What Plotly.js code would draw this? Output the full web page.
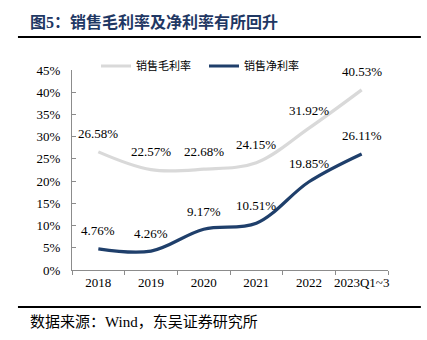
<!DOCTYPE html>
<html>
<head>
<meta charset="utf-8">
<script src="https://cdn.plot.ly/plotly-3.0.1.min.js"></script>
<style>html,body{margin:0;padding:0;background:#fff;}#chart{width:427px;height:340px;}</style>
</head>
<body>
<div id="chart"></div>
<script>
const categories = ["2018", "2019", "2020", "2021", "2022", "2023Q1~3"];
const grossMargin = [26.58, 22.57, 22.68, 24.15, 31.92, 40.53];
const netMargin = [4.76, 4.26, 9.17, 10.51, 19.85, 26.11];
const seriesNames = ["销售毛利率", "销售净利率"];
const yTickVals = [0, 5, 10, 15, 20, 25, 30, 35, 40, 45];
const yTickText = ["0%", "5%", "10%", "15%", "20%", "25%", "30%", "35%", "40%", "45%"];
const titleText = "图5：销售毛利率及净利率有所回升";
const sourceText = "数据来源：Wind，东吴证券研究所";

const serif = "Liberation Serif, Noto Sans CJK SC, serif";
const grayC = "#d9d9d9";
const blueC = "#1f3f6b";

const traces = [
  {x: categories, y: grossMargin, name: seriesNames[0], type: "scatter", mode: "lines",
   line: {color: grayC, width: 3.2, shape: "spline", smoothing: 1}},
  {x: categories, y: netMargin, name: seriesNames[1], type: "scatter", mode: "lines",
   line: {color: blueC, width: 3.2, shape: "spline", smoothing: 1}}
];

const annotations = [];
function addLabels(vals) {
  vals.forEach((v, i) => {
    annotations.push({x: i, y: v, xref: "x", yref: "y", text: v.toFixed(2) + "%",
      showarrow: false, yshift: 18, font: {family: serif, size: 13, color: "#000"}});
  });
}
addLabels(grossMargin);
addLabels(netMargin);
annotations.push({xref: "paper", yref: "paper", x: -0.139, y: 1.24, xanchor: "left", yanchor: "middle",
  text: "<b>" + titleText + "</b>", showarrow: false, font: {family: serif, size: 16, color: "#1f3864"}});
annotations.push({xref: "paper", yref: "paper", x: -0.139, y: -0.26, xanchor: "left", yanchor: "middle",
  text: sourceText, showarrow: false, font: {family: serif, size: 15, color: "#000"}});

const layout = {
  width: 427, height: 340,
  margin: {l: 72, r: 39, t: 70, b: 70},
  paper_bgcolor: "#fff", plot_bgcolor: "#fff",
  showlegend: true,
  legend: {orientation: "h", x: (96 - 72) / 316, xanchor: "left", y: (270 - 66) / 200, yanchor: "middle",
    font: {family: serif, size: 11, color: "#000"}, entrywidth: 63, entrywidthmode: "pixels",
    bgcolor: "rgba(0,0,0,0)", borderwidth: 0},
  xaxis: {type: "category", range: [-0.5, 5.5], showline: true, linecolor: "#8c8c8c", linewidth: 1,
    ticks: "outside", ticklen: 4, tickcolor: "#8c8c8c", tickson: "boundaries", showgrid: false, zeroline: false,
    tickangle: 0, tickfont: {family: serif, size: 13, color: "#000"}, fixedrange: true},
  yaxis: {range: [0, 45], tickvals: yTickVals, ticktext: yTickText, showline: true, linecolor: "#8c8c8c", linewidth: 1,
    ticks: "inside", ticklen: 4, tickcolor: "#8c8c8c", showgrid: false, zeroline: false, ticklabelstandoff: 8,
    tickfont: {family: serif, size: 13, color: "#000"}, fixedrange: true},
  annotations: annotations,
  shapes: [
    {type: "line", xref: "paper", yref: "paper", x0: -0.171, x1: 1.104, y0: 1.165, y1: 1.165, line: {color: "#000", width: 2}},
    {type: "line", xref: "paper", yref: "paper", x0: -0.171, x1: 1.104, y0: -0.185, y1: -0.185, line: {color: "#000", width: 2}}
  ]
};

Plotly.newPlot("chart", traces, layout, {displayModeBar: false, staticPlot: true});
</script>
</body>
</html>
